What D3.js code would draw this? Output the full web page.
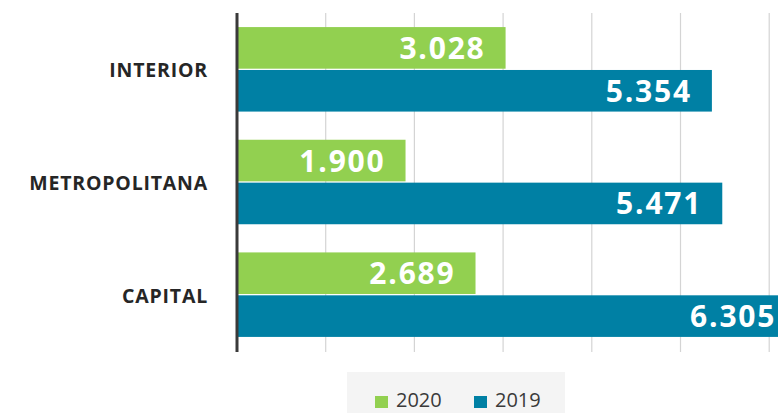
<!DOCTYPE html>
<html>
<head>
<meta charset="utf-8">
<script src="https://cdn.jsdelivr.net/npm/d3@7"></script>
<style>
  body { margin: 0; background: #fff; overflow: hidden; }
  text { font-family: "Open Sans", "DejaVu Sans", sans-serif; }
</style>
</head>
<body>
<div id="chart"></div>
<script>
// data
var categories = ["INTERIOR", "METROPOLITANA", "CAPITAL"];
var seriesNames = ["2020", "2019"];
var values2020 = [3028, 1900, 2689];
var values2019 = [5354, 5471, 6305];
var xTicks = [0, 1000, 2000, 3000, 4000, 5000, 6000, 7000];

var colors = { "2020": "#92d050", "2019": "#0080a4" };

var width = 778, height = 413;

var svg = d3.select("#chart").append("svg")
    .attr("width", width)
    .attr("height", height);

// set the ranges (the plot runs past the right edge, as in the original crop)
var x = d3.scaleLinear().domain([0, 7000]).range([237, 237 + 7 * 88.7]);
var y = d3.scaleBand().domain(categories).range([13, 351])
    .paddingInner(0.25).paddingOuter(0.125);
var ySub = d3.scaleBand().domain(seriesNames).range([0, y.bandwidth()])
    .paddingInner(0.03);

var fmt = d3.formatLocale({ decimal: ",", thousands: ".", grouping: [3], currency: ["", ""] }).format(",d");

// gridlines
svg.append("g")
  .selectAll("line")
  .data(xTicks.slice(1))
  .enter().append("line")
    .attr("x1", function(d) { return x(d); })
    .attr("x2", function(d) { return x(d); })
    .attr("y1", 13)
    .attr("y2", 352)
    .attr("stroke", "#d4d4d4")
    .attr("stroke-width", 1.2);

// rows
var rows = categories.map(function(c, i) {
  return { cat: c, vals: [
    { s: "2020", v: values2020[i] },
    { s: "2019", v: values2019[i] }
  ]};
});

var g = svg.append("g").selectAll("g")
  .data(rows)
  .enter().append("g")
    .attr("transform", function(d) { return "translate(0," + y(d.cat) + ")"; });

g.selectAll("rect")
  .data(function(d) { return d.vals; })
  .enter().append("rect")
    .attr("x", x(0))
    .attr("y", function(d) { return ySub(d.s); })
    .attr("width", function(d) { return x(d.v) - x(0); })
    .attr("height", ySub.bandwidth())
    .attr("fill", function(d) { return colors[d.s]; });

g.selectAll("text.val")
  .data(function(d) { return d.vals; })
  .enter().append("text")
    .attr("class", "val")
    .attr("x", function(d) { return x(d.v) - 20; })
    .attr("y", function(d) { return ySub(d.s) + ySub.bandwidth() / 2 + 11; })
    .attr("text-anchor", "end")
    .attr("fill", "#fff")
    .attr("font-size", 30)
    .attr("font-weight", 700)
    .attr("letter-spacing", "1.8")
    .text(function(d) { return fmt(d.v); });

// category labels
svg.append("g").selectAll("text")
  .data(categories)
  .enter().append("text")
    .attr("x", 208)
    .attr("y", function(d) { return y(d) + y.bandwidth() / 2 + 8; })
    .attr("text-anchor", "end")
    .attr("font-size", 19.5)
    .attr("font-weight", 700)
    .attr("fill", "#262626")
    .attr("letter-spacing", "0.8")
    .text(function(d) { return d; });

// y axis line
svg.append("line")
    .attr("x1", x(0)).attr("x2", x(0))
    .attr("y1", 13).attr("y2", 352)
    .attr("stroke", "#3a3a3a")
    .attr("stroke-width", 3);

// legend
var legend = svg.append("g");
legend.append("rect")
    .attr("x", 347).attr("y", 372)
    .attr("width", 218).attr("height", 41)
    .attr("fill", "#f4f4f4");

var legendX = d3.scaleOrdinal().domain(seriesNames).range([375, 474]);
var li = legend.selectAll("g")
  .data(seriesNames)
  .enter().append("g")
    .attr("transform", function(d) { return "translate(" + legendX(d) + ",0)"; });
li.append("rect")
    .attr("x", 0).attr("y", 396)
    .attr("width", 13).attr("height", 12)
    .attr("fill", function(d) { return colors[d]; });
li.append("text")
    .attr("x", 21).attr("y", 407)
    .attr("font-size", 20)
    .attr("fill", "#3a3a3a")
    .text(function(d) { return d; });
</script>
</body>
</html>
